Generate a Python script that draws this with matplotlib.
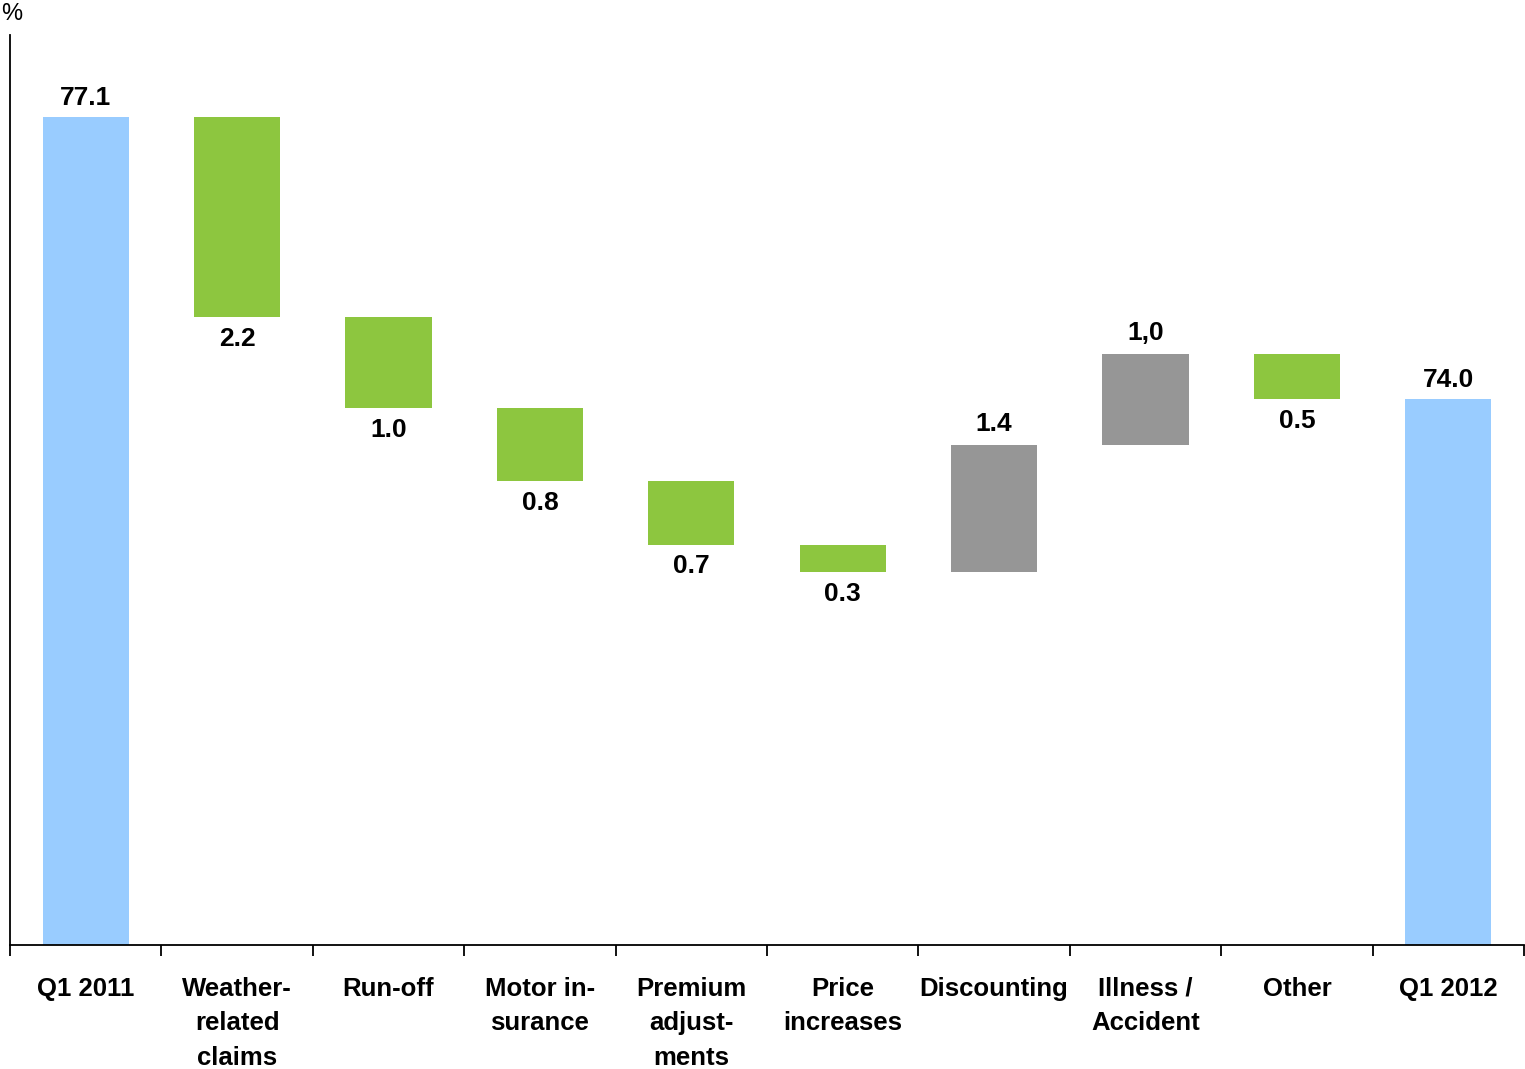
import matplotlib
matplotlib.use("Agg")
import matplotlib.pyplot as plt
import numpy as np

categories = ["Q1 2011", "Weather-\nrelated\nclaims", "Run-off", "Motor in-\nsurance",
              "Premium\nadjust-\nments", "Price\nincreases", "Discounting",
              "Illness /\nAccident", "Other", "Q1 2012"]
values = [77.1, -2.2, -1.0, -0.8, -0.7, -0.3, 1.4, 1.0, -0.5, 74.0]
value_labels = ["77.1", "2.2", "1.0", "0.8", "0.7", "0.3", "1.4", "1,0", "0.5", "74.0"]
is_total = [True, False, False, False, False, False, False, False, False, True]

BLUE = "#99CCFF"
GREEN = "#8DC63F"
GRAY = "#969696"

plt.rcParams['font.family'] = ['Liberation Sans', 'DejaVu Sans']

fig = plt.figure(figsize=(15.25, 10.69), dpi=100)
ax = fig.add_axes([10/1525, 1 - 945/1069, 1514/1525, (945-35)/1069])

YMIN, YMAX = 68.0, 78.0
x = np.arange(len(categories))
width = 0.57
running = 0.0
for i, (v, lab, tot) in enumerate(zip(values, value_labels, is_total)):
    if tot:
        bottom, top = YMIN, v
        running = v
        ax.bar(x[i], top - bottom, bottom=bottom, width=width, color=BLUE, linewidth=0)
        ax.annotate(lab, (x[i], top), xytext=(0, 5), textcoords="offset points",
                    ha="center", va="bottom", fontsize=19, fontweight="bold")
    else:
        start = running
        end = running + v
        running = end
        lo, hi = min(start, end), max(start, end)
        color = GREEN if v < 0 else GRAY
        ax.bar(x[i], hi - lo, bottom=lo, width=width, color=color, linewidth=0)
        if v < 0:
            ax.annotate(lab, (x[i], lo), xytext=(0, -7), textcoords="offset points",
                        ha="center", va="top", fontsize=19, fontweight="bold")
        else:
            ax.annotate(lab, (x[i], hi), xytext=(0, 6), textcoords="offset points",
                        ha="center", va="bottom", fontsize=19, fontweight="bold")

ax.set_ylim(YMIN, YMAX)
ax.set_xlim(-0.5, len(categories) - 0.5)
ax.spines['top'].set_visible(False)
ax.spines['right'].set_visible(False)
for s in ['left', 'bottom']:
    ax.spines[s].set_linewidth(1.3)
ax.set_yticks([])
ax.set_xticks(x)
ax.set_xticklabels(categories, fontsize=18.5, fontweight="bold", linespacing=1.55, va="top")
ax.tick_params(axis='x', which='major', length=0, pad=23)
ax.set_xticks(np.arange(-0.5, len(categories)), minor=True)
ax.tick_params(axis='x', which='minor', length=8, width=1.3, direction='out')

fig.text(12/1525, 1 - 14/1069, "%", ha="center", va="center", fontsize=17)

fig.savefig("out.png", dpi=100)
